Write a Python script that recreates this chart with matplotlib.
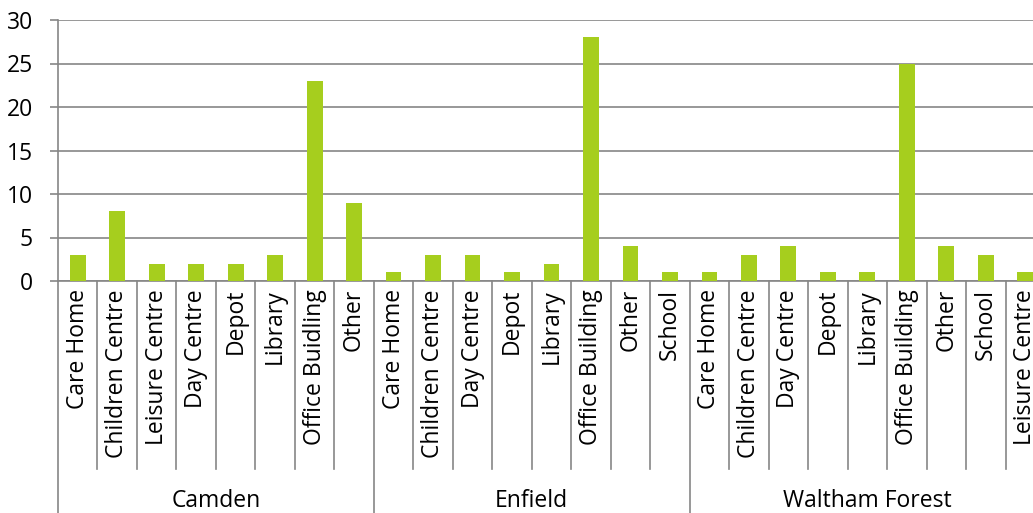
import matplotlib

matplotlib.use("Agg")
import matplotlib.pyplot as plt
import numpy as np

plt.rcParams["font.family"] = ["Open Sans", "DejaVu Sans"]

# ---------------------------------------------------------------------------
# Data
# ---------------------------------------------------------------------------
groups = ["Camden", "Enfield", "Waltham Forest"]
camden_types = ["Care Home", "Children Centre", "Leisure Centre", "Day Centre",
                "Depot", "Library", "Office Buidling", "Other"]
camden_counts = [3, 8, 2, 2, 2, 3, 23, 9]
enfield_types = ["Care Home", "Children Centre", "Day Centre", "Depot",
                 "Library", "Office Building", "Other", "School"]
enfield_counts = [1, 3, 3, 1, 2, 28, 4, 1]
waltham_types = ["Care Home", "Children Centre", "Day Centre", "Depot",
                 "Library", "Office Building", "Other", "School", "Leisure Centre"]
waltham_counts = [1, 3, 4, 1, 1, 25, 4, 3, 1]
y_ticks = [0, 5, 10, 15, 20, 25, 30]

group_types = [camden_types, enfield_types, waltham_types]
group_counts = [camden_counts, enfield_counts, waltham_counts]

labels = [t for g in group_types for t in g]
counts = [c for g in group_counts for c in g]
n = len(labels)

BAR = "#A6CE1E"
GRID = "#868686"

W, H = 1033, 513
fig = plt.figure(figsize=(W / 100, H / 100), dpi=100)
left, right_px = 58, 1045
top_px, zero_px = 20, 281
ax = fig.add_axes([left / W, 1 - zero_px / H, (right_px - left) / W, (zero_px - top_px) / H])

x = np.arange(n)
ax.bar(x, counts, width=0.4, color=BAR, zorder=3)

ax.set_xlim(-0.5, n - 0.5)
ax.set_ylim(0, 30)
ax.set_yticks(y_ticks)
ax.tick_params(axis="y", length=6, width=1.2, color=GRID, labelsize=16.5, pad=12)
ax.yaxis.grid(True, color=GRID, linewidth=1.2, zorder=0)
ax.set_xticks([])
for side in ["top", "right"]:
    ax.spines[side].set_visible(False)
for side in ["left", "bottom"]:
    ax.spines[side].set_color(GRID)
    ax.spines[side].set_linewidth(1.2)

# multi-level category axis
tr = ax.get_xaxis_transform()
ah = zero_px - top_px
label_top = -(289 - zero_px) / ah
inner_bottom = -(469 - zero_px) / ah
outer_bottom = -(H + 5 - zero_px) / ah
group_y = -(501 - zero_px) / ah

for i, lab in enumerate(labels):
    ax.text(i, label_top, lab, transform=tr, rotation=90, ha="center", va="top",
            fontsize=16.5, color="black")

start = 0
bounds = [0]
for g, types in zip(groups, group_types):
    end = start + len(types)
    ax.text((start + end - 1) / 2, group_y, g, transform=tr, ha="center",
            va="center", fontsize=16.5, color="black")
    start = end
    bounds.append(end)

for b in range(n + 1):
    bottom = outer_bottom if b in bounds else inner_bottom
    ax.plot([b - 0.5, b - 0.5], [0, bottom], transform=tr, color=GRID,
            linewidth=1.2, clip_on=False)

fig.savefig("out.png", dpi=100)
